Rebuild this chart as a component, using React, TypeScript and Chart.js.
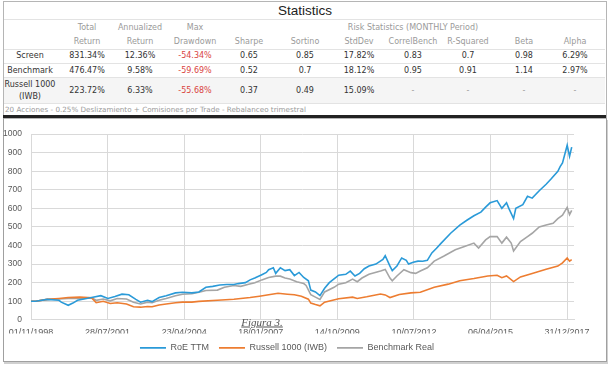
import React, { useEffect, useRef } from "react";
import { Chart, registerables } from "chart.js";

Chart.register(...registerables);

// ---------- Statistics table data ----------
const tableTitle = "Statistics";
const riskGroupTitle = "Risk Statistics (MONTHLY Period)";
const statHeaderTop = ["Total", "Annualized", "Max", "", "", "", "", "", "", ""];
const statHeaderBottom = ["Return", "Return", "Drawdown", "Sharpe", "Sortino", "StdDev", "CorrelBench", "R-Squared", "Beta", "Alpha"];
const statRowNames = ["Screen", "Benchmark", "Russell 1000 (IWB)"];
const screenStats = ["831.34%", "12.36%", "-54.34%", "0.65", "0.85", "17.82%", "0.83", "0.7", "0.98", "6.29%"];
const benchmarkStats = ["476.47%", "9.58%", "-59.69%", "0.52", "0.7", "18.12%", "0.95", "0.91", "1.14", "2.97%"];
const russellStats = ["223.72%", "6.33%", "-55.68%", "0.37", "0.49", "15.09%", "-", "-", "-", "-"];
const footNote = "20 Acciones - 0.25% Deslizamiento + Comisiones por Trade - Rebalanceo trimestral";

// ---------- Chart data ----------
const seriesNames = ["RoE TTM", "Russell 1000 (IWB)", "Benchmark Real"];
const figureCaption = "Figura 3.";

const roeDates = ["1998-11","1999-01","1999-06","1999-11","1999-12","2000-03","2000-05","2000-07","2001-01","2001-05","2001-08","2001-11","2002-02","2002-05","2002-08","2002-10","2003-01","2003-03","2003-06","2003-09","2004-01","2004-04","2004-08","2004-11","2005-02","2005-05","2005-08","2005-11","2006-02","2006-04","2006-07","2006-09","2006-11","2007-02","2007-04","2007-05","2007-07","2007-08","2007-10","2007-12","2008-02","2008-04","2008-06","2008-08","2008-10","2008-11","2009-01","2009-03","2009-05","2009-07","2009-09","2009-11","2010-02","2010-04","2010-06","2010-08","2010-10","2010-12","2011-03","2011-06","2011-07","2011-09","2011-10","2011-12","2012-02","2012-04","2012-05","2012-07","2012-09","2012-11","2013-01","2013-03","2013-05","2013-07","2013-11","2014-03","2014-06","2014-09","2014-12","2015-02","2015-04","2015-07","2015-09","2015-11","2015-12","2016-02","2016-03","2016-06","2016-08","2016-10","2017-01","2017-04","2017-06","2017-09","2017-10","2017-11","2018-01","2018-02","2018-03"];
const roeValues = [100,100,110,105,95,78,90,105,120,130,115,125,138,135,110,95,105,98,120,130,145,148,145,150,175,180,187,190,190,195,200,215,225,243,255,270,280,250,280,265,270,238,255,228,210,160,150,130,170,200,220,240,245,262,236,250,275,290,300,325,345,289,265,290,333,320,300,310,316,315,320,360,385,413,466,510,536,560,580,607,630,642,600,630,600,545,600,620,665,655,695,730,757,800,825,845,940,880,930];

const russellDates = ["1998-11","1999-01","1999-06","1999-11","2000-03","2000-08","2001-01","2001-03","2001-06","2001-09","2001-12","2002-04","2002-07","2002-10","2003-01","2003-03","2003-06","2003-09","2004-01","2004-04","2004-08","2004-11","2005-07","2006-02","2006-09","2007-01","2007-05","2007-09","2008-01","2008-04","2008-07","2008-10","2008-11","2009-01","2009-03","2009-05","2009-11","2010-05","2010-07","2010-11","2011-05","2011-07","2011-09","2012-01","2012-06","2012-10","2013-04","2013-10","2014-03","2014-09","2015-03","2015-07","2015-09","2015-11","2016-02","2016-05","2016-10","2017-04","2017-09","2017-11","2018-01","2018-02","2018-03"];
const russellValues = [100,100,110,115,120,122,118,92,100,88,92,85,70,68,72,70,80,85,92,95,95,99,105,111,120,127,135,143,138,135,127,111,90,82,75,95,113,122,115,124,139,134,120,136,145,148,175,192,210,222,236,240,227,236,206,231,249,272,289,307,333,316,324];

const benchDates = ["1998-11","1999-01","1999-06","1999-11","2000-03","2000-08","2001-01","2001-03","2001-06","2001-09","2001-12","2002-04","2002-07","2002-10","2003-01","2003-03","2003-06","2003-09","2004-01","2004-04","2004-08","2004-11","2005-02","2005-07","2005-10","2006-02","2006-05","2006-08","2006-11","2007-02","2007-05","2007-08","2007-10","2007-12","2008-02","2008-05","2008-08","2008-09","2008-11","2009-01","2009-03","2009-05","2009-09","2009-11","2010-02","2010-05","2010-07","2010-09","2010-12","2011-05","2011-07","2011-09","2011-10","2011-12","2012-03","2012-06","2012-08","2012-10","2013-01","2013-04","2013-08","2014-01","2014-05","2014-09","2014-11","2015-02","2015-04","2015-07","2015-09","2015-11","2016-01","2016-02","2016-05","2016-08","2016-10","2017-01","2017-04","2017-07","2017-09","2017-11","2018-01","2018-02","2018-03"];
const benchValues = [100,100,110,112,115,115,118,105,112,102,115,112,95,85,95,92,105,115,130,138,140,148,158,160,175,185,180,190,200,215,228,235,235,225,220,205,195,185,135,122,110,150,175,192,200,219,205,225,245,263,271,225,210,236,270,254,250,263,280,316,342,377,395,413,386,430,448,448,413,445,413,370,421,448,466,500,510,520,545,563,605,566,589];

const xTickDays = [0, 1000, 2000, 3000, 4000, 5000, 6000, 7000];
const xMaxDays = 7090;
const yMin = 0;
const yMax = 1000;
const yStep = 100;

// ---------- helpers ----------
const BASE = Date.UTC(1998, 10, 1);
const DAY = 86400000;
const toDays = (s: string) => {
  const [y, m] = s.split("-").map(Number);
  return Math.round((Date.UTC(y, m - 1, 1) - BASE) / DAY);
};
const fmtDay = (v: number) => {
  const d = new Date(BASE + v * DAY);
  const p = (n: number) => String(n).padStart(2, "0");
  return `${p(d.getUTCDate())}/${p(d.getUTCMonth() + 1)}/${d.getUTCFullYear()}`;
};
const pairs = (dates: string[], values: number[]) =>
  dates.slice(0, Math.min(dates.length, values.length)).map((d, i) => ({ x: toDays(d), y: values[i] }));

// ---------- layout (page px) ----------
const colX = [87, 140, 195, 249, 305, 359, 413, 468, 524, 575];
const labelX = 30;
const rowY = [56, 70.5, 91];
const tableFont = "'DejaVu Sans', Verdana, sans-serif";
const axisFont = "'Liberation Sans', Arial, sans-serif";

function Txt(props: { x: number; y: number; children: React.ReactNode; style?: React.CSSProperties }) {
  return (
    <div
      style={{
        position: "absolute",
        left: props.x,
        top: props.y,
        transform: "translate(-50%, -50%)",
        whiteSpace: "nowrap",
        lineHeight: 1,
        ...props.style,
      }}
    >
      {props.children}
    </div>
  );
}

function HLine(props: { y: number; color?: string; h?: number; x0?: number; x1?: number }) {
  const x0 = props.x0 ?? 4;
  const x1 = props.x1 ?? 605;
  return (
    <div
      style={{
        position: "absolute",
        left: x0,
        top: props.y,
        width: x1 - x0,
        height: props.h ?? 1,
        background: props.color ?? "#e3e3e3",
      }}
    />
  );
}

export default function App() {
  const canvasRef = useRef<HTMLCanvasElement>(null);

  useEffect(() => {
    const canvas = canvasRef.current;
    if (!canvas) return;
    const chart = new Chart(canvas, {
      type: "line",
      data: {
        datasets: [
          {
            label: seriesNames[0],
            data: pairs(roeDates, roeValues),
            borderColor: "#2a9ad8",
            backgroundColor: "#2a9ad8",
            borderWidth: 1.6,
            pointRadius: 0,
            tension: 0,
          },
          {
            label: seriesNames[1],
            data: pairs(russellDates, russellValues),
            borderColor: "#ed7d31",
            backgroundColor: "#ed7d31",
            borderWidth: 1.6,
            pointRadius: 0,
            tension: 0,
          },
          {
            label: seriesNames[2],
            data: pairs(benchDates, benchValues),
            borderColor: "#a5a5a5",
            backgroundColor: "#a5a5a5",
            borderWidth: 1.6,
            pointRadius: 0,
            tension: 0,
          },
        ],
      },
      options: {
        responsive: false,
        animation: false,
        events: [],
        layout: { padding: { top: 9, right: 31, left: 0, bottom: 7.6 } },
        plugins: {
          tooltip: { enabled: false },
          legend: {
            position: "bottom",
            labels: {
              usePointStyle: true,
              pointStyle: "line",
              pointStyleWidth: 26,
              boxHeight: 8,
              padding: 10,
              color: "#595959",
              font: { family: axisFont, size: 9 },
            },
          },
        },
        scales: {
          x: {
            type: "linear",
            min: 0,
            max: xMaxDays,
            afterBuildTicks: (s: any) => {
              s.ticks = xTickDays.map((v) => ({ value: v }));
            },
            afterFit: (s: any) => {
              s.height = 13.6;
            },
            grid: { color: "#d9d9d9", drawTicks: false },
            border: { color: "#d9d9d9" },
            ticks: {
              autoSkip: false,
              maxRotation: 0,
              minRotation: 0,
              padding: 7,
              color: "#595959",
              font: { family: axisFont, size: 9 },
              callback: (v: any) => fmtDay(Number(v)),
            },
          },
          y: {
            min: yMin,
            max: yMax,
            afterFit: (s: any) => {
              s.width = 31;
            },
            grid: { color: "#d9d9d9", drawTicks: false },
            border: { display: false },
            ticks: {
              stepSize: yStep,
              padding: 9,
              color: "#595959",
              font: { family: axisFont, size: 8.5 },
              callback: (v: any) => String(v),
            },
          },
        },
      },
    });
    return () => chart.destroy();
  }, []);

  const rows = [screenStats, benchmarkStats, russellStats];

  return (
    <div
      style={{
        position: "fixed",
        left: 0,
        top: 0,
        width: 609,
        height: 367,
        background: "#ffffff",
        overflow: "hidden",
        fontFamily: tableFont,
        fontSize: 8,
        color: "#333",
      }}
    >
      {/* ---- Statistics table ---- */}
      <div
        style={{
          position: "absolute",
          left: 3,
          top: 1,
          width: 602,
          height: 116,
          border: "1px solid #b5b5b5",
          background: "#fff",
        }}
      />
      <div style={{ position: "absolute", left: 4, top: 78, width: 601, height: 25, background: "#f5f5f5" }} />
      <Txt x={305} y={11} style={{ fontFamily: axisFont, fontSize: 13.5, color: "#222" }}>
        {tableTitle}
      </Txt>
      <HLine y={19} />
      <Txt x={413} y={28} style={{ color: "#9a9a9a" }}>
        {riskGroupTitle}
      </Txt>
      {statHeaderTop.map((h, i) =>
        h ? (
          <Txt key={"ht" + i} x={colX[i]} y={28} style={{ color: "#9a9a9a" }}>
            {h}
          </Txt>
        ) : null
      )}
      {statHeaderBottom.map((h, i) => (
        <Txt key={"hb" + i} x={colX[i]} y={42} style={{ color: "#9a9a9a" }}>
          {h}
        </Txt>
      ))}
      <HLine y={49} />
      <HLine y={63} />
      <HLine y={77} />
      <HLine y={103} />
      {statRowNames.map((name, r) => {
        const parts = name.split(" (");
        return (
          <Txt key={"rn" + r} x={labelX} y={rowY[r]} style={{ textAlign: "center", lineHeight: "12px" }}>
            {parts.length > 1 ? (
              <>
                {parts[0]}
                <br />({parts[1]}
              </>
            ) : (
              name
            )}
          </Txt>
        );
      })}
      {rows.map((vals, r) =>
        vals.map((v, c) => (
          <Txt
            key={"v" + r + "_" + c}
            x={colX[c]}
            y={rowY[r]}
            style={{ color: c === 2 ? "#d9443f" : v === "-" ? "#999" : "#333" }}
          >
            {v}
          </Txt>
        ))
      )}
      <div
        style={{
          position: "absolute",
          left: 5,
          top: 109.5,
          transform: "translateY(-50%)",
          whiteSpace: "nowrap",
          lineHeight: 1,
          fontSize: 7.2,
          color: "#9a9a9a",
        }}
      >
        {footNote}
      </div>
      <HLine y={115} h={3} color="#222" x0={3} x1={606} />

      {/* ---- Chart box ---- */}
      <div
        style={{
          position: "absolute",
          left: 3,
          top: 118,
          width: 602,
          height: 243,
          borderLeft: "1px solid #a0a0a0",
          borderRight: "1px solid #a0a0a0",
          borderBottom: "1px solid #a0a0a0",
          boxShadow: "1px 2px 0 #d0d0d0",
        }}
      />
      <canvas
        ref={canvasRef}
        width={605}
        height={250}
        style={{ position: "absolute", left: 0, top: 120, width: 605, height: 250 }}
      />
      <Txt
        x={262}
        y={322}
        style={{
          fontFamily: "'Liberation Serif', 'DejaVu Serif', serif",
          fontStyle: "italic",
          fontSize: 11,
          color: "#555",
          textDecoration: "underline",
        }}
      >
        {figureCaption}
      </Txt>
    </div>
  );
}
